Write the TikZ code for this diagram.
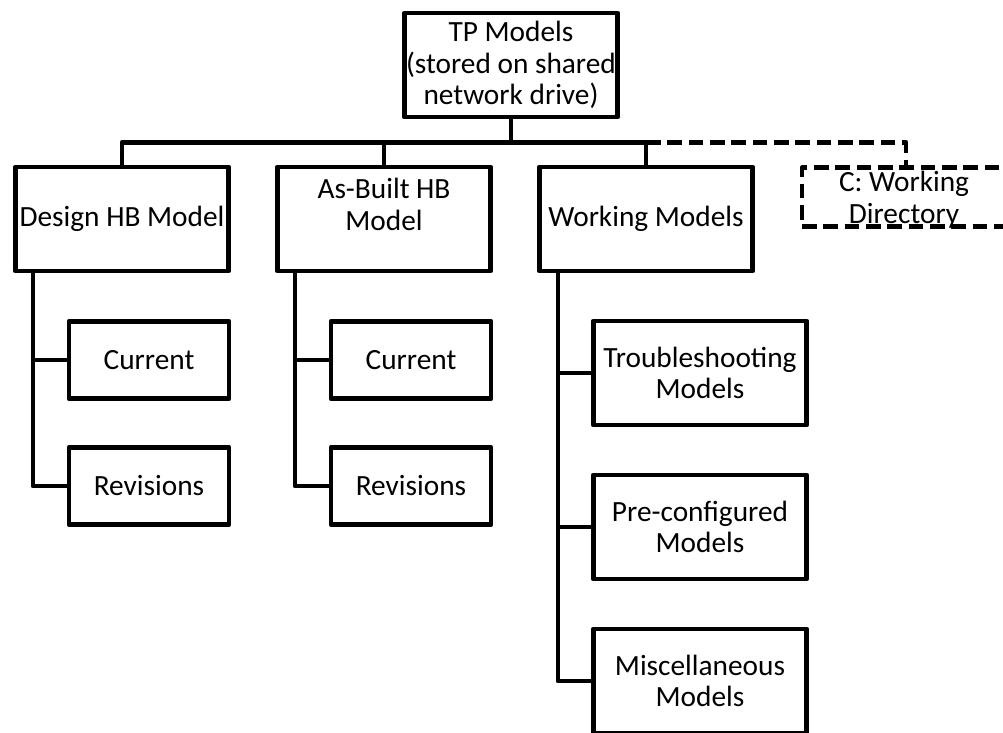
\documentclass[tikz,border=0pt]{standalone}
\usepackage{fontspec}
\setmainfont{Carlito}
\begin{document}
\begin{tikzpicture}[x=0.75pt,y=-0.75pt,
  box/.style={draw, line width=3.6pt, line join=round, rectangle, align=center,
    inner sep=0pt, font=\fontsize{22}{23.8}\selectfont},
  bigbox/.style={box, minimum width=160pt, minimum height=78pt},
  smallbox/.style={box, minimum width=120pt, minimum height=58pt},
  dashbox/.style={box, dash pattern=on 11pt off 5pt, minimum width=156pt, minimum height=44pt},
  link/.style={line width=3.6pt, line join=round},
  dashlink/.style={link, dash pattern=on 11pt off 5pt}]
\useasboundingbox (0,0) rectangle (1003,732);
\clip (0,0) rectangle (1003,732);
\fill[white] (0,0) rectangle (1003,732);

% root
\node[bigbox] (tp) at (511,65) {TP Models\\(stored on shared\\network drive)};

% second level
\node[bigbox] (design)  at (122,219) {Design HB Model};
\node[bigbox] (asbuilt) at (384,219) {As-Built HB\\Model\\[-2pt]\phantom{M}};
\node[bigbox] (working) at (646,219) {Working Models};
\node[dashbox] (cwd) at (906,197) {};
\node[font=\fontsize{22}{23.8}\selectfont, align=center, inner sep=0pt] (cwdtext)
  at (904,200) {C: Working\\Directory};

% design children
\node[smallbox] (cur1) at (149,360) {Current};
\node[smallbox] (rev1) at (149,486) {Revisions};

% as-built children
\node[smallbox] (cur2) at (411,360) {Current};
\node[smallbox] (rev2) at (411,486) {Revisions};

% working children
\node[bigbox] (trouble) at (700,373) {Troubleshooting\\Models};
\node[bigbox] (preconf) at (700,527) {Pre-configured\\Models};
\node[bigbox] (misc)    at (700,681) {Miscellaneous\\Models};

% top bus
\path (tp.south) ++(0,23) coordinate (hub);
\draw[link] (tp.south) -- (hub);
\draw[link] (design.north) |- (hub) -| (working.north);
\draw[link] (asbuilt.north) -- (asbuilt.north |- hub);
\draw[dashlink] (working.north |- hub) -| (cwd.north);

% child stems
\path (design.south west)  ++(20,0) coordinate (dstem);
\path (asbuilt.south west) ++(20,0) coordinate (astem);
\path (working.south west) ++(21,0) coordinate (wstem);
\draw[link] (dstem) |- (cur1.west);
\draw[link] (dstem) |- (rev1.west);
\draw[link] (astem) |- (cur2.west);
\draw[link] (astem) |- (rev2.west);
\draw[link] (wstem) |- (trouble.west);
\draw[link] (wstem) |- (preconf.west);
\draw[link] (wstem) |- (misc.west);
\end{tikzpicture}
\end{document}
